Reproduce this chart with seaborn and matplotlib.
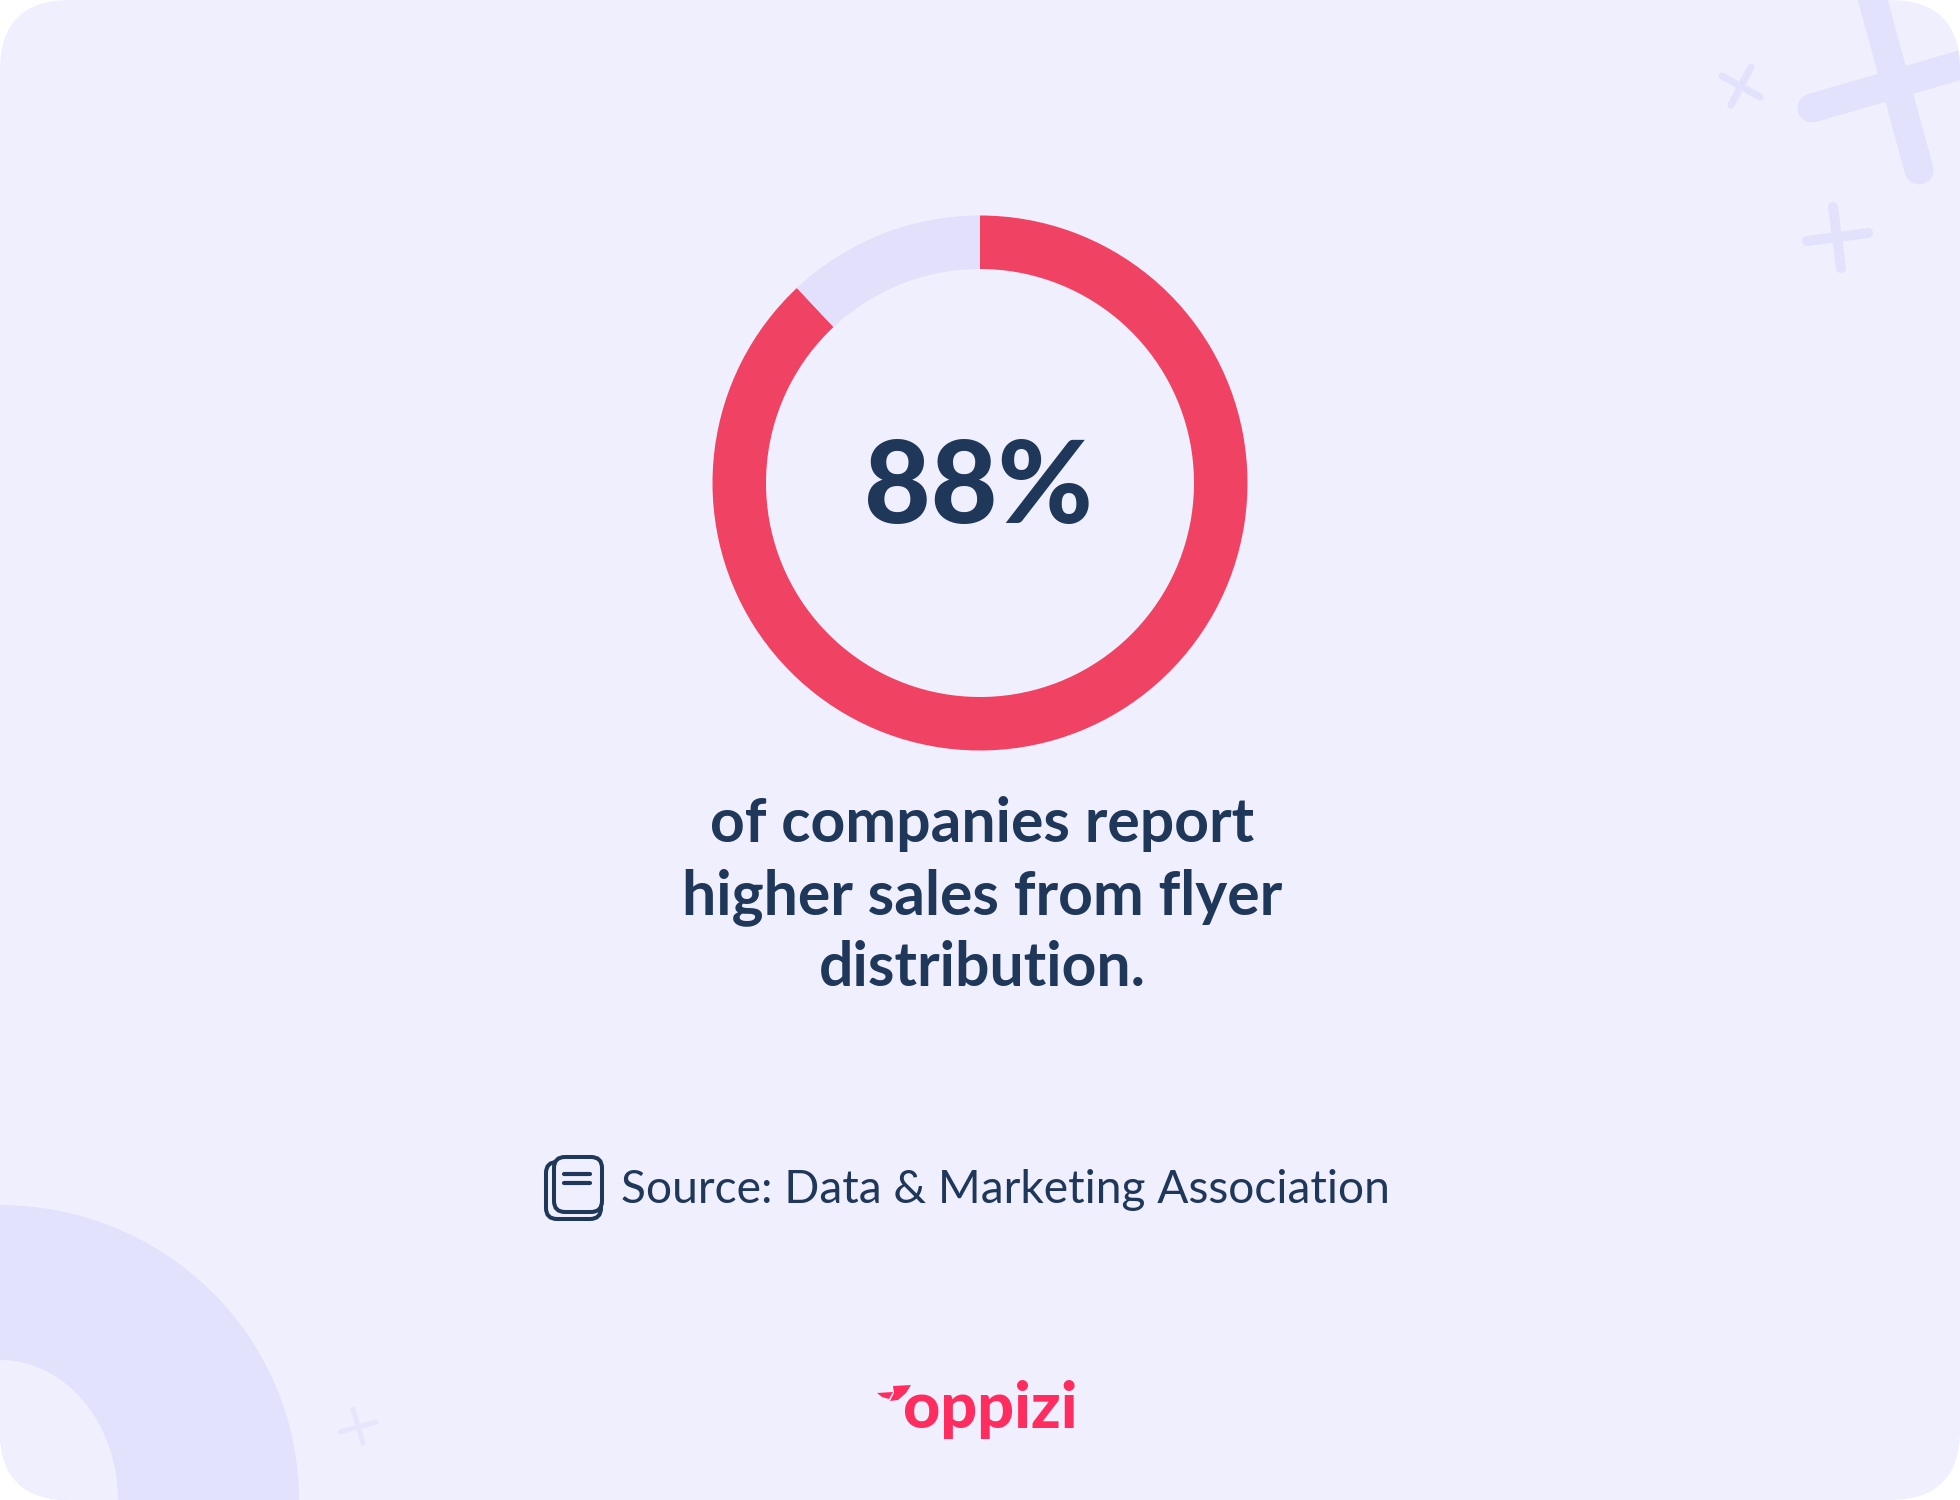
import matplotlib
matplotlib.use("Agg")
import matplotlib.pyplot as plt
import seaborn as sns
from matplotlib.patches import Ellipse, FancyBboxPatch, Polygon

shares = [88, 12]
share_label = "88%"
caption_lines = ["of companies report", "higher sales from flyer", "distribution."]
source_text = "Source: Data & Marketing Association"
brand = "oppizi"

navy = "#1F3759"
red = "#F04262"
lilac = "#E2E0FB"
bg = "#F0EFFE"
deco = "#E2E2FD"
pink = "#FF2D5F"

sns.set_theme(style="white")
plt.rcParams["font.family"] = ["Lato", "DejaVu Sans"]

fig = plt.figure(figsize=(19.6, 15), dpi=100, facecolor="white")
ax = fig.add_axes([0, 0, 1, 1])

# card with rounded corners, everything else gets clipped to it
card = FancyBboxPatch((70, 70), 1820, 1360, boxstyle="round,pad=70,rounding_size=70",
                      fc=bg, ec="none", zorder=0)
ax.add_patch(card)

# donut, y axis is flipped below so the angles run clockwise on screen
ax.pie(shares, colors=[red, lilac], startangle=-90, counterclock=True, center=(980, 483),
       radius=267.5, wedgeprops={"width": 53.5, "linewidth": 0}, normalize=True)
ax.set_xlim(0, 1960)
ax.set_ylim(1500, 0)
ax.set_aspect("auto")
ax.axis("off")

"""background shapes"""
arc = Ellipse((0, 1500), 598, 590, fc=deco, ec="none", zorder=1)
ax.add_patch(arc)
arc.set_clip_path(card)
hole = Ellipse((0, 1500), 236, 280, fc=bg, ec="none", zorder=1.1)
ax.add_patch(hole)
hole.set_clip_path(card)

crosses = [
    ((1812, 108), (1985, 58), 29, deco),
    ((1866, -25), (1919, 170), 29, deco),
    ((1722, 76), (1760, 97), 7, deco),
    ((1751, 67), (1731, 105), 7, deco),
    ((1807, 241), (1868, 233), 10, deco),
    ((1833, 207), (1841, 268), 10, deco),
    ((340, 1432), (376, 1422), 5, "#E6E5FC"),
    ((353, 1409), (363, 1443), 5, "#E6E5FC"),
]
for a, b, w, c in crosses:
    line, = ax.plot([a[0], b[0]], [a[1], b[1]], color=c, lw=w * 0.72,
                    solid_capstyle="round", zorder=1)
    line.set_clip_path(card)

"""texts"""
ax.text(978, 523, share_label, color=navy, fontsize=83, fontweight="black",
        ha="center", va="baseline", zorder=3)
for txt, y in zip(caption_lines, [842, 914, 986]):
    ax.text(982, y, txt, color=navy, fontsize=43.7, fontweight="bold",
            ha="center", va="baseline", zorder=3)
ax.text(621, 1203, source_text, color=navy, fontsize=33.2, ha="left", va="baseline", zorder=3)

"""source icon"""
for x, y, w, h in [(546, 1162, 55, 57), (554, 1157, 48, 55)]:
    ax.add_patch(FancyBboxPatch((x + 11, y + 11), w - 22, h - 22,
                                boxstyle="round,pad=11,rounding_size=11",
                                fc=bg, ec=navy, lw=2.9, zorder=3))
ax.plot([564, 590], [1174, 1174], color=navy, lw=3, solid_capstyle="round", zorder=4)
ax.plot([564, 590], [1183, 1183], color=navy, lw=3, solid_capstyle="round", zorder=4)

"""logo"""
ax.text(990, 1428, brand, color=pink, fontsize=46.5, fontweight="black",
        ha="center", va="baseline", zorder=3)
ax.add_patch(Polygon([(877, 1393), (893, 1392), (889, 1399), (882, 1397)], fc=pink, ec="none", zorder=3))
ax.add_patch(Polygon([(893, 1386), (911, 1385), (906, 1393), (898, 1400), (890, 1401), (894, 1393)],
                     fc=pink, ec="none", zorder=3))

fig.savefig("out.png", dpi=100, facecolor="white")
